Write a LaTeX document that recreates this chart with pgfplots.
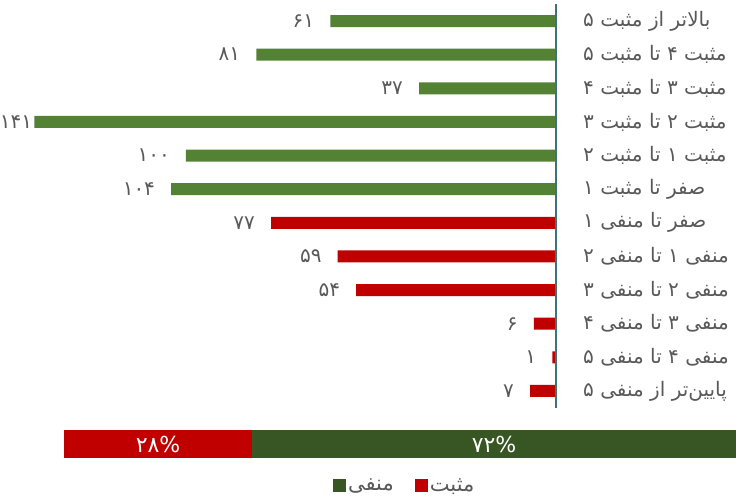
\documentclass[border=0pt]{standalone}
\usepackage{pgfplots}
\pgfplotsset{compat=1.18}
\usepackage{pgfplotstable}
\usepackage{fontspec}
\setmainfont{DejaVu Sans}
\newfontfamily\arabicfont[Script=Arabic]{DejaVu Sans}
\TeXXeTstate=1
\definecolor{gbar}{HTML}{548235}
\definecolor{rbar}{HTML}{C00000}
\definecolor{dgreen}{HTML}{375623}
\definecolor{axc}{HTML}{41727C}
\definecolor{txt}{HTML}{595959}

\pgfplotstableread{
y x lbl sh
0 61 ۶۱ 16
1 81 ۸۱ 16
2 37 ۳۷ 16
3 141 ۱۴۱ 2
4 100 ۱۰۰ 16
5 104 ۱۰۴ 16
}\posdata

\pgfplotstableread{
y x lbl sh
6 77 ۷۷ 16
7 59 ۵۹ 16
8 54 ۵۴ 16
9 6 ۶ 16
10 1 ۱ 16
11 7 ۷ 16
}\negdata

\begin{document}
\begin{tikzpicture}[x=1pt,y=1pt]
\useasboundingbox (0,0) rectangle (736,498);
\begin{axis}[at={(0pt,90.2pt)}, anchor=south west, scale only axis,
  width=556pt, height=403.6pt,
  xbar, bar shift=0pt, bar width=12pt,
  xmin=0, xmax=150.27, x dir=reverse,
  ymin=-0.5, ymax=11.5, y dir=reverse,
  axis line style={draw=none}, xtick=\empty, ytick={0,...,11},
  major tick length=0pt,
  yticklabel pos=right,
  yticklabels={
    {\beginR بالاتر از مثبت ۵\endR},
    {\beginR مثبت ۴ تا مثبت ۵\endR},
    {\beginR مثبت ۳ تا مثبت ۴\endR},
    {\beginR مثبت ۲ تا مثبت ۳\endR},
    {\beginR مثبت ۱ تا مثبت ۲\endR},
    {\beginR صفر تا مثبت ۱\endR},
    {\beginR صفر تا منفی ۱\endR},
    {\beginR منفی ۱ تا منفی ۲\endR},
    {\beginR منفی ۲ تا منفی ۳\endR},
    {\beginR منفی ۳ تا منفی ۴\endR},
    {\beginR منفی ۴ تا منفی ۵\endR},
    {\beginR پایین‌تر از منفی ۵\endR}},
  yticklabel style={anchor=west, inner sep=0pt, xshift=27pt,
    font=\arabicfont\fontsize{20}{22}\selectfont, text=txt},
  clip=false,
  point meta=explicit symbolic,
  nodes near coords,
]
\addplot[fill=gbar, draw=none,
  visualization depends on={\thisrow{sh}\as\sh},
  nodes near coords style={anchor=east, inner sep=0pt, xshift=-\sh pt,
    font=\arabicfont\fontsize{20}{22}\selectfont, text=txt}]
  table[x=x, y=y, meta=lbl] {\posdata};
\addplot[fill=rbar, draw=none,
  visualization depends on={\thisrow{sh}\as\sh},
  nodes near coords style={anchor=east, inner sep=0pt, xshift=-\sh pt,
    font=\arabicfont\fontsize{20}{22}\selectfont, text=txt}]
  table[x=x, y=y, meta=lbl] {\negdata};
\draw[axc, line width=2pt] (axis cs:0,-0.5) -- (axis cs:0,11.5);
\end{axis}

\begin{axis}[at={(64pt,40pt)}, anchor=south west, scale only axis,
  width=672pt, height=28pt,
  xbar stacked, bar width=28pt,
  xmin=0, xmax=100, ymin=-0.5, ymax=0.5,
  hide axis, clip=false,
  legend style={at={(0.507,-0.98)}, anchor=center, draw=none, fill=none,
    legend columns=2, font=\arabicfont\fontsize{21}{23}\selectfont, text=txt,
    /tikz/every even column/.append style={column sep=19pt}},
  reverse legend,
  every axis plot post/.append style={legend image code/.code={\fill[##1] (0pt,-6.5pt) rectangle (13pt,6.5pt);}},
]
\addplot[fill=rbar, draw=none] coordinates {(28,0)};
\addlegendentry{\beginR مثبت\endR}
\addplot[fill=dgreen, draw=none] coordinates {(72,0)};
\addlegendentry{\beginR منفی\endR}
\coordinate (pa) at (axis cs:14,0);
\coordinate (pb) at (axis cs:64,0);
\end{axis}
\node[text=white, font=\arabicfont\fontsize{22}{24}\selectfont] at (pa) {۲۸\%};
\node[text=white, font=\arabicfont\fontsize{22}{24}\selectfont] at (pb) {۷۲\%};
\end{tikzpicture}
\end{document}
